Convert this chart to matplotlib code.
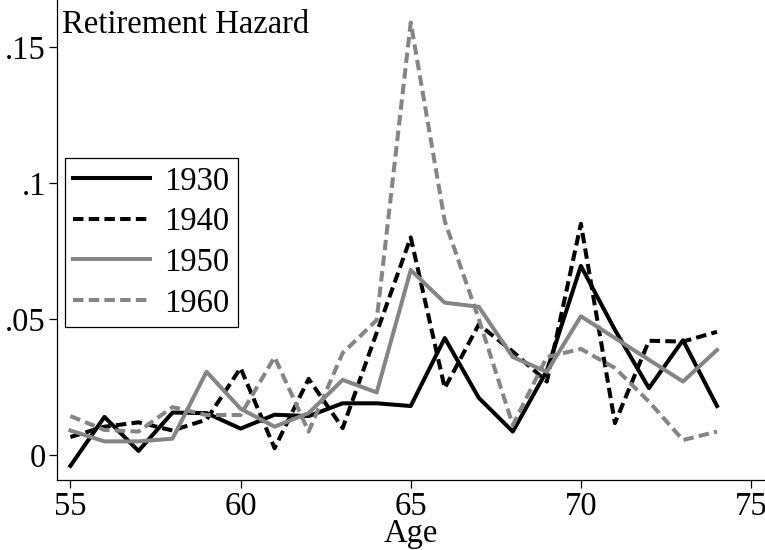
"""
Retirement hazard by age, for birth cohorts 1930-1960
"""
import matplotlib
matplotlib.use('Agg')
import matplotlib.pyplot as plt

# Data
ages = list(range(55, 75))
c1930 = [-0.004, 0.014, 0.0015, 0.0156, 0.0154, 0.0097, 0.0148, 0.0143, 0.019, 0.019,
         0.018, 0.043, 0.021, 0.0086, 0.031, 0.0695, 0.046, 0.0246, 0.0422, 0.018]
c1940 = [0.0066, 0.0104, 0.012, 0.009, 0.013, 0.032, 0.0025, 0.028, 0.0099, 0.045,
         0.080, 0.0246, 0.048, 0.038, 0.027, 0.085, 0.0117, 0.042, 0.0417, 0.0453]
c1950 = [0.009, 0.005, 0.005, 0.006, 0.0306, 0.017, 0.0104, 0.0154, 0.0276, 0.023,
         0.068, 0.056, 0.0545, 0.036, 0.0306, 0.051, 0.043, 0.035, 0.027, 0.0386]
c1960 = [0.0143, 0.0092, 0.0086, 0.0176, 0.0147, 0.0147, 0.036, 0.0086, 0.0375, 0.0496,
         0.159, 0.086, 0.050, 0.011, 0.036, 0.039, 0.032, 0.0196, 0.0055, 0.0086]

x_ticks = [55, 60, 65, 70, 75]
y_ticks = [0, 0.05, 0.1, 0.15]
y_tick_labels = ['0', '.05', '.1', '.15']

plt.rcParams['font.family'] = ['Liberation Serif', 'DejaVu Serif']
FS = 23.5
GRAY = '#858585'

fig = plt.figure(figsize=(7.65, 5.5), dpi=100)
ax = fig.add_axes([57 / 765, 1 - 480 / 550, 1 - 57 / 765, 480 / 550])

dash = (0, (2.6, 1.3))
ax.plot(ages, c1930, color='black', lw=2.9, label='1930')
ax.plot(ages, c1940, color='black', lw=2.9, ls=dash, label='1940')
ax.plot(ages, c1950, color=GRAY, lw=2.9, label='1950')
ax.plot(ages, c1960, color=GRAY, lw=2.9, ls=dash, label='1960')

ax.set_xlim(54.606, 75.41)
ax.set_ylim(-0.0092, 0.1673)
ax.set_xticks(x_ticks)
ax.set_yticks(y_ticks)
ax.set_yticklabels(y_tick_labels)
ax.tick_params(axis='both', labelsize=FS, length=6, width=0.9, direction='out', pad=2)

for side in ['top', 'right']:
    ax.spines[side].set_visible(False)
for side in ['left', 'bottom']:
    ax.spines[side].set_linewidth(0.9)

ax.set_xlabel('Age', fontsize=FS, labelpad=-2)

fig.text(62 / 765, 1 - 33 / 550, 'Retirement Hazard', fontsize=FS, va='baseline', ha='left')

leg = ax.legend(loc='upper left', bbox_to_anchor=(65 / 765, 1 - 158 / 550),
                bbox_transform=fig.transFigure, fontsize=FS, frameon=True,
                fancybox=False, edgecolor='black', framealpha=1,
                handlelength=2.35, handletextpad=0.45, borderpad=0.25,
                labelspacing=0.31, borderaxespad=0)
leg.get_frame().set_linewidth(0.9)

plt.savefig('out.png', dpi=100)
print("Saved out.png")
